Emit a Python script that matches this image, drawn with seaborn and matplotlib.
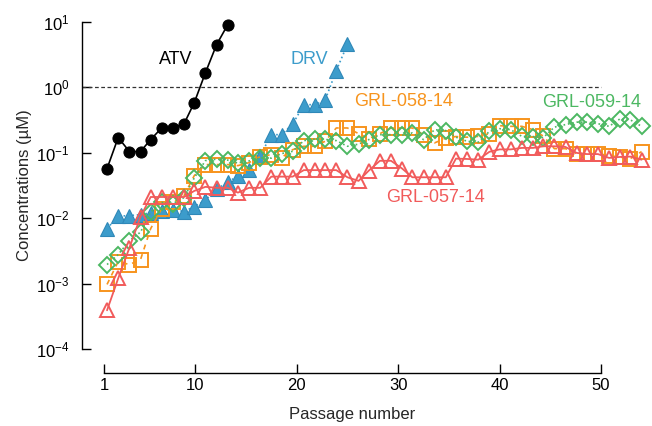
import pandas as pd
import seaborn as sns
import matplotlib.pyplot as plt
from matplotlib.ticker import NullLocator

# x positions of the passages as they sit on the drawn axis
passage = [1.3, 2.4, 3.5, 4.6, 5.6, 6.7, 7.8, 8.9, 9.9, 11.0,
           12.1, 13.2, 14.2, 15.3, 16.4, 17.5, 18.5, 19.6, 20.7, 21.8,
           22.8, 23.9, 25.0, 26.1, 27.1, 28.2, 29.3, 30.4, 31.4, 32.5,
           33.6, 34.7, 35.7, 36.8, 37.9, 39.0, 40.0, 41.1, 42.2, 43.3,
           44.3, 45.4, 46.5, 47.6, 48.6, 49.7, 50.8, 51.9, 52.9, 54.0]

atv = [0.057, 0.17, 0.104, 0.104, 0.158, 0.24, 0.24, 0.277, 0.58, 1.66, 4.46, 9.0]

drv = [0.0069, 0.0107, 0.0109, 0.0113, 0.012, 0.013, 0.0135, 0.0126, 0.015, 0.0187,
       0.028, 0.035, 0.0446, 0.055, 0.09, 0.188, 0.188, 0.272, 0.54, 0.54,
       0.633, 1.79, 4.5]

grl058 = [0.00097, 0.00217, 0.00195, 0.00232, 0.0069, 0.014, 0.0173, 0.0221, 0.0446, 0.0656,
          0.0656, 0.0656, 0.0633, 0.0703, 0.0869, 0.0932, 0.0839, 0.111, 0.125, 0.125,
          0.149, 0.238, 0.238, 0.195, 0.164, 0.195, 0.238, 0.238, 0.238, 0.188,
          0.141, 0.166, 0.176, 0.172, 0.177, 0.195, 0.258, 0.252, 0.252, 0.224,
          0.179, 0.115, 0.115, 0.0966, 0.0966, 0.0966, 0.090, 0.0854, 0.081, 0.1036]

grl059 = [0.00195, 0.00277, 0.00453, 0.0061, 0.0124, 0.0173, 0.0167, 0.0206, 0.0411, 0.0755,
          0.0796, 0.0768, 0.0692, 0.0747, 0.083, 0.0824, 0.0966, 0.1047, 0.1525, 0.161,
          0.159, 0.1525, 0.125, 0.135, 0.158, 0.188, 0.188, 0.185, 0.2, 0.158,
          0.224, 0.217, 0.172, 0.149, 0.1446, 0.211, 0.232, 0.224, 0.177, 0.176,
          0.169, 0.245, 0.268, 0.292, 0.292, 0.277, 0.252, 0.330, 0.316, 0.252]

grl057 = [0.00039, 0.0012, 0.0035, 0.0105, 0.021, 0.021, 0.021, 0.021, 0.026, 0.030,
          0.029, 0.029, 0.0245, 0.029, 0.029, 0.043, 0.043, 0.043, 0.054, 0.054,
          0.054, 0.054, 0.042, 0.037, 0.053, 0.075, 0.075, 0.057, 0.042, 0.042,
          0.042, 0.042, 0.081, 0.080, 0.078, 0.103, 0.112, 0.112, 0.118, 0.118,
          0.125, 0.125, 0.122, 0.099, 0.095, 0.095, 0.083, 0.086, 0.087, 0.078]

x_ticks = [1, 10, 20, 30, 40, 50]

black = "#000000"
blue = "#3c9ccb"
orange = "#f7941d"
green = "#4cb862"
red = "#f15b5b"

sns.set_style("ticks")
plt.rcParams["font.family"] = ["Liberation Sans", "DejaVu Sans"]
plt.rcParams["mathtext.default"] = "regular"

fig = plt.figure(figsize=(6.52, 4.26), dpi=100)
ax = fig.add_axes([104 / 652, 1 - 349 / 426, 497 / 652, 327.3 / 426])

ax.axhline(1, xmin=-22 / 497, xmax=1, color="#333333", lw=0.9, ls=(0, (3, 2)), clip_on=False)

sns.lineplot(x=passage[:len(drv)], y=drv, ax=ax, color=blue, lw=1.2, linestyle=":",
             marker="^", markersize=10.5, markerfacecolor=blue, markeredgecolor="#2f88b8",
             markeredgewidth=0.8, clip_on=False, sort=False, estimator=None)
sns.lineplot(x=passage, y=grl058, ax=ax, color=orange, lw=1.2, linestyle=(0, (3, 3)),
             marker="s", markersize=10, markerfacecolor="none", markeredgecolor=orange,
             markeredgewidth=1.4, clip_on=False, sort=False, estimator=None)
sns.lineplot(x=passage, y=grl059, ax=ax, color=green, lw=1.2, linestyle=":",
             marker="D", markersize=8.5, markerfacecolor="none", markeredgecolor=green,
             markeredgewidth=1.4, clip_on=False, sort=False, estimator=None)
sns.lineplot(x=passage, y=grl057, ax=ax, color=red, lw=1.3, linestyle="-",
             marker="^", markersize=10.5, markerfacecolor="none", markeredgecolor=red,
             markeredgewidth=1.4, clip_on=False, sort=False, estimator=None)
sns.lineplot(x=passage[:len(atv)], y=atv, ax=ax, color=black, lw=1.2, linestyle="-",
             marker="o", markersize=8, markerfacecolor=black, markeredgecolor=black,
             clip_on=False, sort=False, estimator=None)

ax.set_yscale("log")
ax.set_xlim(1, 50)
ax.set_ylim(1e-4, 1e1)
ax.set_xticks(x_ticks)
ax.yaxis.set_minor_locator(NullLocator())
ax.tick_params(axis="both", direction="in", length=6.5, width=1, labelsize=12, colors="black")
ax.tick_params(axis="y", pad=9)
ax.tick_params(axis="x", pad=4)
for s in ["left", "bottom"]:
    ax.spines[s].set_linewidth(1)
    ax.spines[s].set_color("black")
sns.despine(ax=ax, offset={"left": 16, "bottom": 17}, trim=True)

ax.set_xlabel("Passage number", fontsize=12, labelpad=10)
ax.set_ylabel("Concentrations (µM)", fontsize=12, labelpad=3)

ax.text(8.1, 2.63, "ATV", color=black, fontsize=13, ha="center", va="center")
ax.text(21.2, 2.63, "DRV", color=blue, fontsize=13, ha="center", va="center")
ax.text(30.5, 0.60, "GRL-058-14", color=orange, fontsize=13, ha="center", va="center")
ax.text(49.1, 0.58, "GRL-059-14", color=green, fontsize=13, ha="center", va="center", clip_on=False)
ax.text(33.7, 0.0206, "GRL-057-14", color=red, fontsize=13, ha="center", va="center")

plt.savefig("out.png", dpi=100)
